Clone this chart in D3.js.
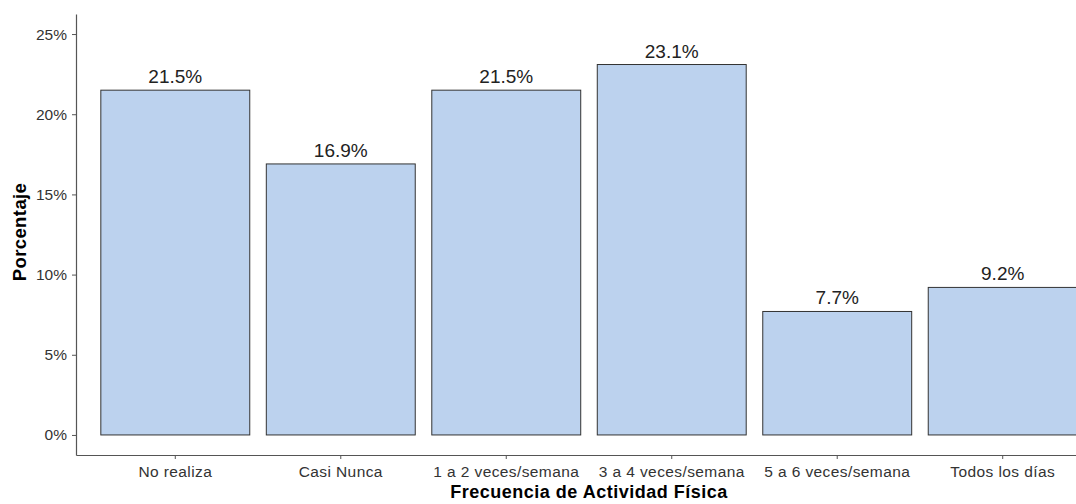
<!DOCTYPE html>
<html><head><meta charset="utf-8">
<script src="https://cdn.jsdelivr.net/npm/d3@7"></script>
<style>body{margin:0;background:#fff}svg{display:block}text{font-family:"Liberation Sans",Arial,sans-serif}</style>
</head><body>
<script>
const categories = ["No realiza","Casi Nunca","1 a 2 veces/semana","3 a 4 veces/semana","5 a 6 veces/semana","Todos los días"];
const values = [21.5,16.9,21.5,23.1,7.7,9.2];
const yTicks = [0,5,10,15,20,25];

const W=1076,H=504;
const svg=d3.select("body").append("svg").attr("width",W).attr("height",H);
const x=d3.scaleBand().domain(categories).range([76,1102]).paddingInner(0.1).paddingOuter(0.15);
const y=d3.scaleLinear().domain([-1.25,26.25]).range([455,14]);

svg.selectAll("rect.bar").data(values).join("rect").attr("class","bar")
  .attr("x",(d,i)=>x(categories[i])).attr("width",x.bandwidth())
  .attr("y",d=>y(d)).attr("height",d=>y(0)-y(d))
  .attr("fill","#bcd2ee").attr("stroke","#333").attr("stroke-width",1);

svg.selectAll("text.val").data(values).join("text").attr("class","val")
  .attr("x",(d,i)=>x(categories[i])+x.bandwidth()/2).attr("y",d=>y(d)-7)
  .attr("text-anchor","middle").attr("font-size",19).attr("fill","#222")
  .text(d=>d.toFixed(1)+"%");

const ya=svg.append("g").attr("transform","translate(76,0)")
  .call(d3.axisLeft(y).tickValues(yTicks).tickFormat(d=>d+"%").tickSize(4).tickSizeOuter(0).tickPadding(5));
const xa=svg.append("g").attr("transform","translate(0,455)")
  .call(d3.axisBottom(x).tickSize(4).tickSizeOuter(0).tickPadding(7));
[ya,xa].forEach(a=>{
  a.select(".domain").attr("stroke","#555").attr("stroke-width",1.2);
  a.selectAll(".tick line").attr("stroke","#555");
  a.selectAll(".tick text").attr("font-size",15.5).attr("fill","#333").attr("font-family","Liberation Sans, Arial, sans-serif");
});
xa.selectAll(".tick text").attr("letter-spacing","0.4px");

svg.append("text").attr("x",589).attr("y",498).attr("text-anchor","middle")
  .attr("font-size",18).attr("font-weight","bold").attr("fill","#000").attr("letter-spacing","0.5px").text("Frecuencia de Actividad Física");
svg.append("text").attr("transform","translate(26,232) rotate(-90)").attr("text-anchor","middle")
  .attr("font-size",18.5).attr("font-weight","bold").attr("fill","#000").attr("letter-spacing","0.4px").text("Porcentaje");
</script>
</body></html>
